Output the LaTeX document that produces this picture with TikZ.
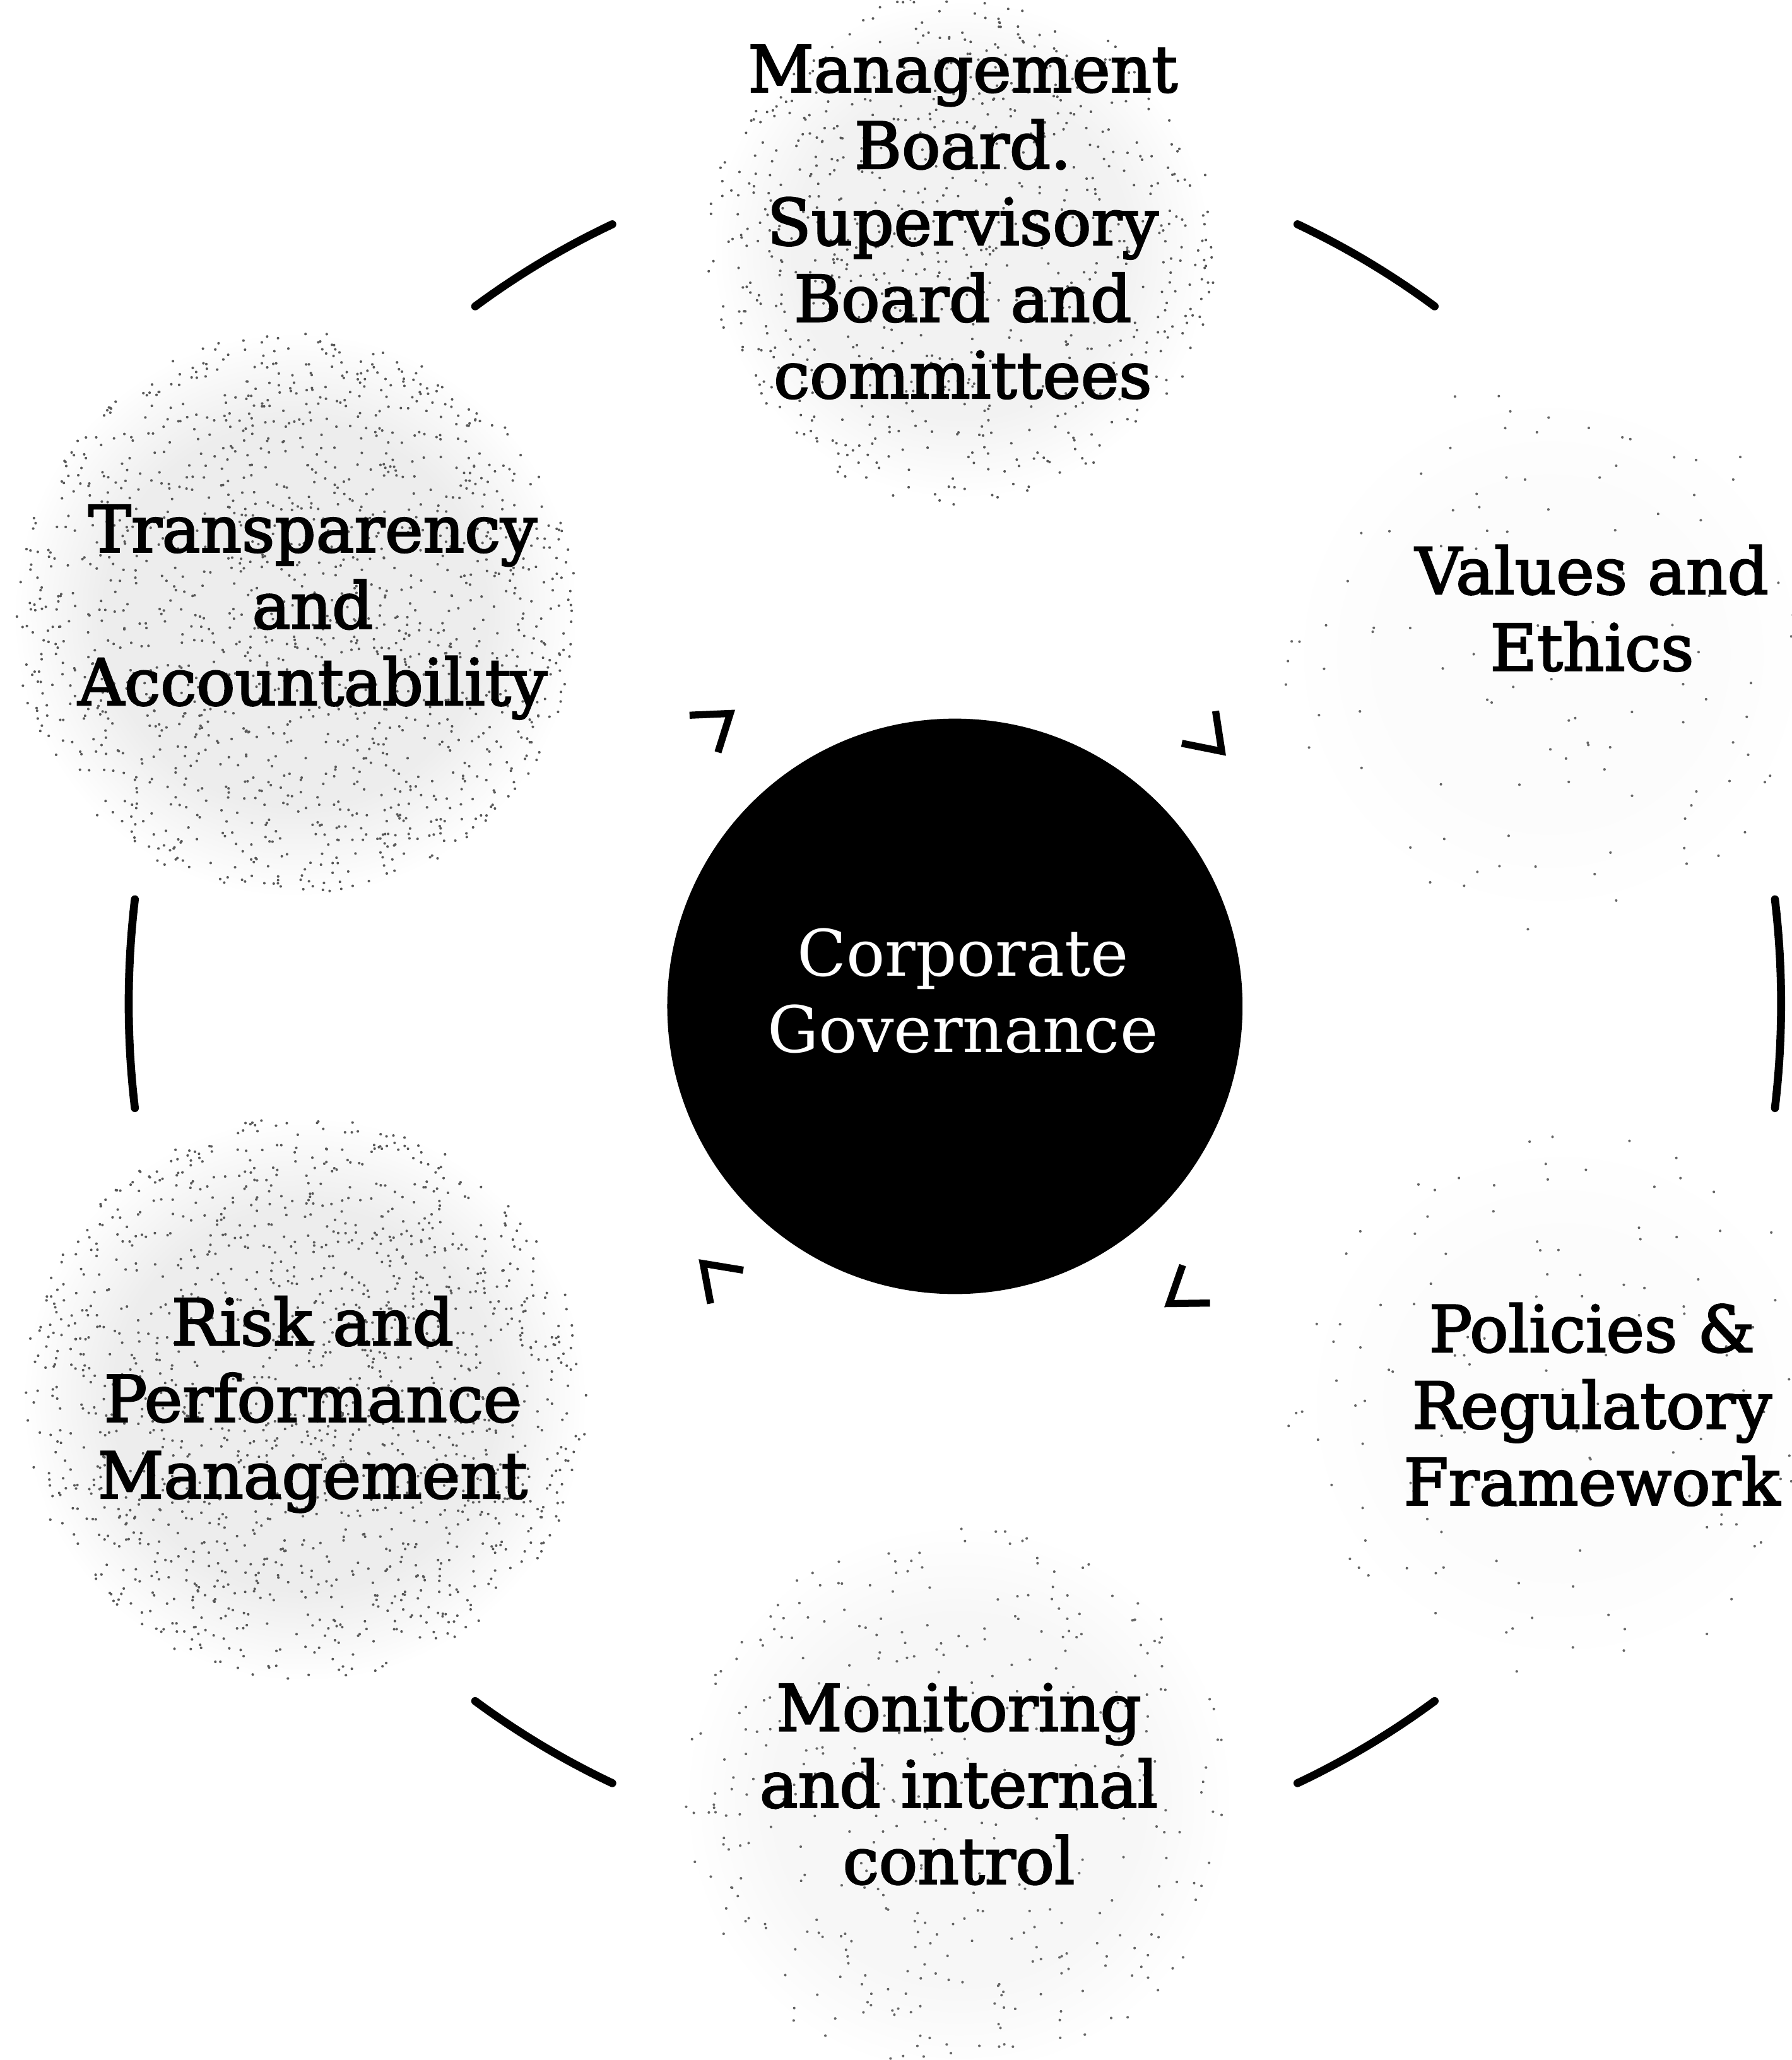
\documentclass[tikz,border=0pt]{standalone}
\usepackage{fontspec}
\setmainfont{DejaVu Serif}
\newfontfamily\lblfont{DejaVu Serif}[BoldFont={DejaVu Serif}, BoldFeatures={FakeBold=2.5}]
\usetikzlibrary{calc}
\colorlet{bdense}{black!7}
\colorlet{bmed}{black!5}
\colorlet{blight}{black!3}
\colorlet{bfaint}{black!1}
\pgfdeclareradialshading{shdense}{\pgfpoint{0bp}{0bp}}{color(0bp)=(bdense); color(17bp)=(bdense); color(25bp)=(white); color(50bp)=(white)}
\pgfdeclareradialshading{shmed}{\pgfpoint{0bp}{0bp}}{color(0bp)=(bmed); color(17bp)=(bmed); color(25bp)=(white); color(50bp)=(white)}
\pgfdeclareradialshading{shlight}{\pgfpoint{0bp}{0bp}}{color(0bp)=(blight); color(17bp)=(blight); color(25bp)=(white); color(50bp)=(white)}
\pgfdeclareradialshading{shfaint}{\pgfpoint{0bp}{0bp}}{color(0bp)=(bfaint); color(17bp)=(bfaint); color(25bp)=(white); color(50bp)=(white)}
\newcommand\myspeckle[5]{%
  \pgfmathsetseed{#5}%
  \foreach \k in {1,...,#3}{%
    \pgfmathsetmacro\rr{#2*sqrt(rnd)}%
    \pgfmathsetmacro\aa{360*rnd}%
    \fill[#4] (#1) ++(\aa:\rr) circle (1.0);
  }}
\begin{document}
\begin{tikzpicture}[x=0.020814cm,y=0.020814cm,
  lbl/.style={font=\lblfont\bfseries\fontsize{29}{34.5}\selectfont, align=center, text=black, inner sep=0pt},
  ctr/.style={font=\fontsize{29}{34.5}\selectfont, align=center, text=white, inner sep=0pt},
  ring/.style={line width=3.6pt, line cap=round},
  chev/.style={line width=3.2pt, line join=miter, line cap=butt}]
\useasboundingbox (0,0) rectangle (1364,1568);
% blob centres
\coordinate (bM) at (732,1378);
\coordinate (bT) at (225,1100);
\coordinate (bR) at (232,503);
\coordinate (bV) at (1180,1070);
\coordinate (bP) at (1190,500);
\coordinate (bC) at (730,198);
% soft speckled blobs
\shade[shading=shmed] (bM) circle (190);
\shade[shading=shdense] (bT) circle (215);
\shade[shading=shdense] (bR) circle (215);
\shade[shading=shfaint] (bV) circle (200);
\shade[shading=shfaint] (bP) circle (200);
\shade[shading=shlight] (bC) circle (210);
\myspeckle{bM}{195}{800}{black!65}{11}
\myspeckle{bT}{215}{1500}{black!65}{12}
\myspeckle{bR}{215}{1500}{black!65}{13}
\myspeckle{bV}{210}{110}{black!60}{14}
\myspeckle{bP}{210}{130}{black!60}{15}
\myspeckle{bC}{210}{420}{black!60}{16}
% centre
\node[circle, fill=black, minimum size=438*0.020814cm, inner sep=0pt] (cg) at (727,802) {};
\node[ctr] (cgt) at (733,814) {Corporate\\Governance};
% outer ring segments
\coordinate (rc) at (727,804);
\foreach \a/\h in {0/7, 60/5.5, 120/5.5, 180/7, 240/5.5, 300/5.5}{
  \draw[ring] (rc) ++(\a-\h:629 and 652) arc[start angle=\a-\h, end angle=\a+\h, x radius=629, y radius=652];
}
% chevron arrow tips around centre
\path (cg.center) ++(127.5:281) coordinate (t1);
\path (cg.center) ++(43.7:281) coordinate (t2);
\path (cg.center) ++(-54.2:279) coordinate (t3);
\path (cg.center) ++(225.6:274) coordinate (t4);
\draw[chev] (t1) ++(182.5:31) -- (t1) -- ++(252.5:31);
\draw[chev] (t2) ++(98.7:31) -- (t2) -- ++(168.7:31);
\draw[chev] (t3) ++(0.8:31) -- (t3) -- ++(70.8:31);
\draw[chev] (t4) ++(280.6:31) -- (t4) -- ++(350.6:31);
% labels
\node[lbl] (mb) at (733,1399) {Management\\Board.\\Supervisory\\Board and\\committees};
\node[lbl] (ve) at (1212,1105) {Values and\\Ethics};
\node[lbl] (pr) at (1212,499) {Policies \&\\Regulatory\\Framework};
\node[lbl] (mi) at (730,210) {Monitoring\\and internal\\control};
\node[lbl] (rp) at (238,499) {Risk and\\Performance\\Management};
\node[lbl] (ta) at (238,1102) {Transparency\\and\\Accountability};
\end{tikzpicture}
\end{document}
